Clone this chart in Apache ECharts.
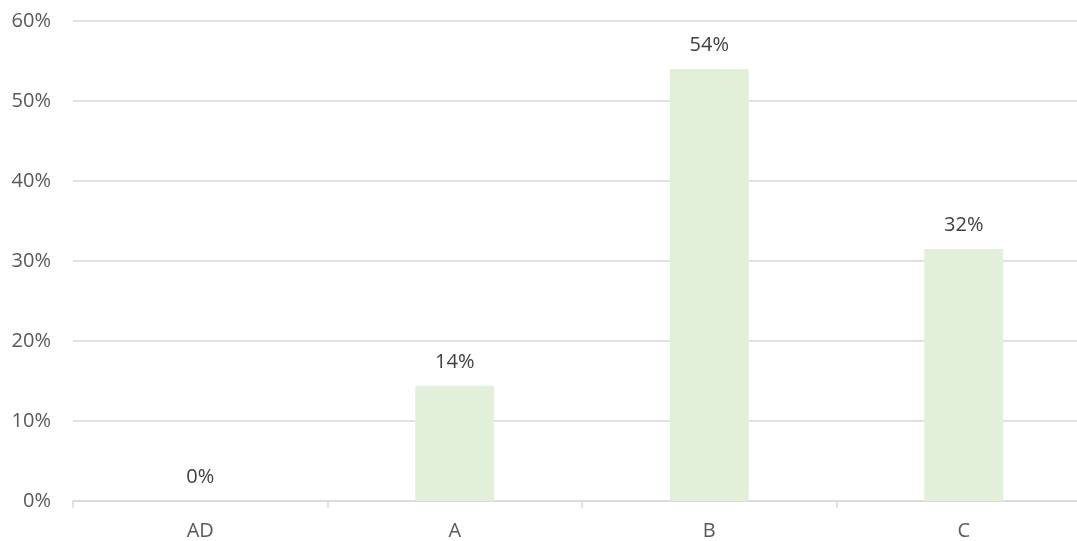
<!DOCTYPE html>
<html>
<head>
<meta charset="utf-8">
<script src="https://cdn.jsdelivr.net/npm/echarts@6/dist/echarts.min.js"></script>
<style>
  html, body { margin: 0; padding: 0; overflow: hidden; background: #fff; }
  #main { width: 1092px; height: 541px; }
</style>
</head>
<body>
<div id="main"></div>
<script>
const categories = ['AD', 'A', 'B', 'C'];
const shares = [0, 14.4, 54.0, 31.5];
const yTicks = [0, 10, 20, 30, 40, 50, 60];

const chart = echarts.init(document.getElementById('main'));
const font = '"Open Sans", "Noto Sans", sans-serif';

chart.setOption({
  animation: false,
  textStyle: { fontFamily: font },
  grid: { left: 73, right: 1, top: 21, bottom: 38 },
  xAxis: {
    type: 'category',
    data: categories,
    axisLine: { lineStyle: { color: '#d9d9d9', width: 1.5 } },
    axisTick: { show: true, length: 7, lineStyle: { color: '#d9d9d9', width: 1.5 } },
    axisLabel: { color: '#595959', fontSize: 20, fontFamily: font, margin: 20 }
  },
  yAxis: {
    type: 'value',
    min: yTicks[0],
    max: yTicks[yTicks.length - 1],
    interval: 10,
    axisLine: { show: false },
    axisTick: { show: false },
    splitLine: { lineStyle: { color: '#d9d9d9', width: 1.5 } },
    axisLabel: {
      color: '#595959', fontSize: 20, fontFamily: font, margin: 22,
      formatter: v => v + '%'
    }
  },
  series: [{
    type: 'bar',
    data: shares,
    barWidth: '31%',
    itemStyle: { color: '#e2efd9' },
    label: {
      show: true,
      position: 'top',
      distance: 14,
      color: '#404040',
      fontSize: 20,
      fontFamily: font,
      formatter: p => Math.round(p.value) + '%'
    }
  }]
});
</script>
</body>
</html>
